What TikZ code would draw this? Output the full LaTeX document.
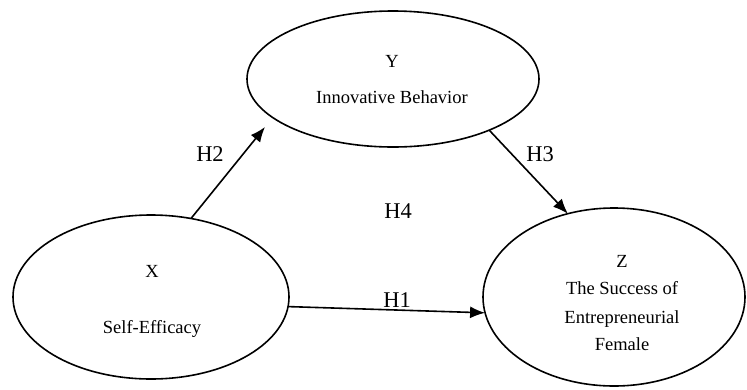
\documentclass[tikz,border=0pt]{standalone}
\usepackage{fontspec}
\setmainfont{Liberation Serif}
\usetikzlibrary{arrows.meta,shapes.geometric}
\begin{document}
\begin{tikzpicture}[x=1pt,y=-1pt,
  var/.style={draw, ellipse, line width=1.6pt, inner sep=0pt, outer sep=0pt},
  lbl/.style={anchor=base, inner sep=0pt, font=\fontsize{18.5}{22}\selectfont},
  hlbl/.style={anchor=base, inner sep=0pt, font=\fontsize{22.5}{26}\selectfont},
  link/.style={line width=1.6pt, -{Latex[length=15pt,width=12pt]}}]
\useasboundingbox (0,0) rectangle (747,389);
\node[var, minimum width=276pt, minimum height=164pt] (X) at (151,297) {};
\node[var, minimum width=292pt, minimum height=136pt] (Y) at (393,79) {};
\node[var, minimum width=262pt, minimum height=178pt] (Z) at (614,297) {};
\node[lbl] (xl) at (152,277) {X};
\node[lbl] (xn) at (152,333) {Self-Efficacy};
\node[lbl] (yl) at (392,67) {Y};
\node[lbl] (yn) at (392,103) {Innovative Behavior};
\node[lbl] (zl) at (622,267) {Z};
\node[lbl] (zn1) at (622,294) {The Success of};
\node[lbl] (zn2) at (622,323) {Entrepreneurial};
\node[lbl] (zn3) at (622,350) {Female};
\node[hlbl] (h2) at (210,161) {H2};
\node[hlbl] (h3) at (540,161) {H3};
\node[hlbl] (h4) at (398,218) {H4};
\node[hlbl] (h1) at (397,307) {H1};
\coordinate (h2tip) at (265,127);
\draw[link] (X.63) -- (h2tip);
\draw[link] (Y.332.5) -- (Z.119);
\draw[link] (X.356.2) -- (Z.187);
\end{tikzpicture}
\end{document}
